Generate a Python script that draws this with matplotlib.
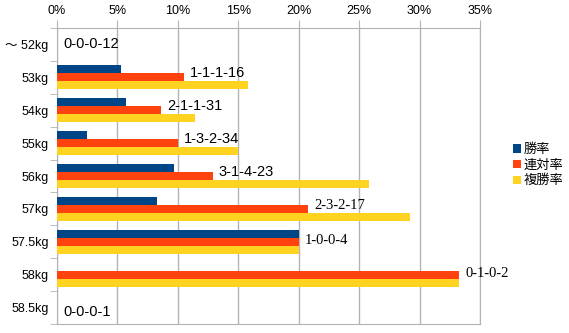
import numpy as np
import matplotlib
matplotlib.use("Agg")
import matplotlib.pyplot as plt
from matplotlib.patches import Patch

plt.rcParams['font.family'] = ['Liberation Sans', 'Noto Sans CJK JP', 'DejaVu Sans']

# データ
categories = ["〜 52kg", "53kg", "54kg", "55kg", "56kg", "57kg", "57.5kg", "58kg", "58.5kg"]
records = ["0-0-0-12", "1-1-1-16", "2-1-1-31", "1-3-2-34", "3-1-4-23",
           "2-3-2-17", "1-0-0-4", "0-1-0-2", "0-0-0-1"]
win_rate = [0.0, 5.3, 5.7, 2.5, 9.7, 8.3, 20.0, 0.0, 0.0]
quinella_rate = [0.0, 10.5, 8.6, 10.0, 12.9, 20.8, 20.0, 33.3, 0.0]
place_rate = [0.0, 15.8, 11.4, 15.0, 25.8, 29.2, 20.0, 33.3, 0.0]
serif_labels = ["2-3-2-17", "1-0-0-4", "0-1-0-2"]
label_shift = [0.0, -0.13, -0.13, -0.13, -0.12, -0.1, -0.05, -0.05, 0.13]

series = [("勝率", win_rate, "#004586"),
          ("連対率", quinella_rate, "#ff420e"),
          ("複勝率", place_rate, "#ffd320")]

fig = plt.figure(figsize=(5.69, 3.33), dpi=100)
ax = fig.add_axes([57 / 569, 1 - 324 / 333, (480 - 57) / 569, (324 - 28) / 333])

y = np.arange(len(categories))
h = 0.245
for k, (name, vals, col) in enumerate(series):
    ax.barh(y + (k - 1) * h, vals, height=h, color=col, zorder=3)

# 成績ラベル
for i, rec in enumerate(records):
    fam = ['Liberation Serif'] if rec in serif_labels else ['Liberation Sans']
    ax.text(quinella_rate[i] + 0.5, y[i] + label_shift[i], rec, fontsize=10.5,
            va='center', ha='left', family=fam, zorder=4)

ax.set_xlim(0, 35)
ax.set_ylim(len(categories) - 0.5, -0.5)
ax.set_xticks(np.arange(0, 36, 5))
ax.set_xticklabels([f"{t}%" for t in range(0, 36, 5)], fontsize=9)
ax.xaxis.tick_top()
ax.tick_params(axis='x', length=6, color='#b3b3b3', pad=2)
ax.grid(axis='x', color='#b3b3b3', linewidth=1, zorder=0)

ax.set_yticks(y)
ax.set_yticklabels(categories, fontsize=9)
ax.tick_params(axis='y', length=0, pad=6)
ax.set_yticks(np.arange(-0.5, len(categories)), minor=True)
ax.tick_params(axis='y', which='minor', length=5, color='#b3b3b3')

for s in ax.spines.values():
    s.set_color('#b3b3b3')

handles = [Patch(facecolor=c, label=n) for n, _, c in series]
fig.legend(handles=handles, loc='center left', bbox_to_anchor=(0.893, 0.503),
           frameon=False, fontsize=9.5, handlelength=0.6, handleheight=0.6,
           handletextpad=0.2, labelspacing=0.25, borderaxespad=0)

fig.savefig("out.png", dpi=100)
